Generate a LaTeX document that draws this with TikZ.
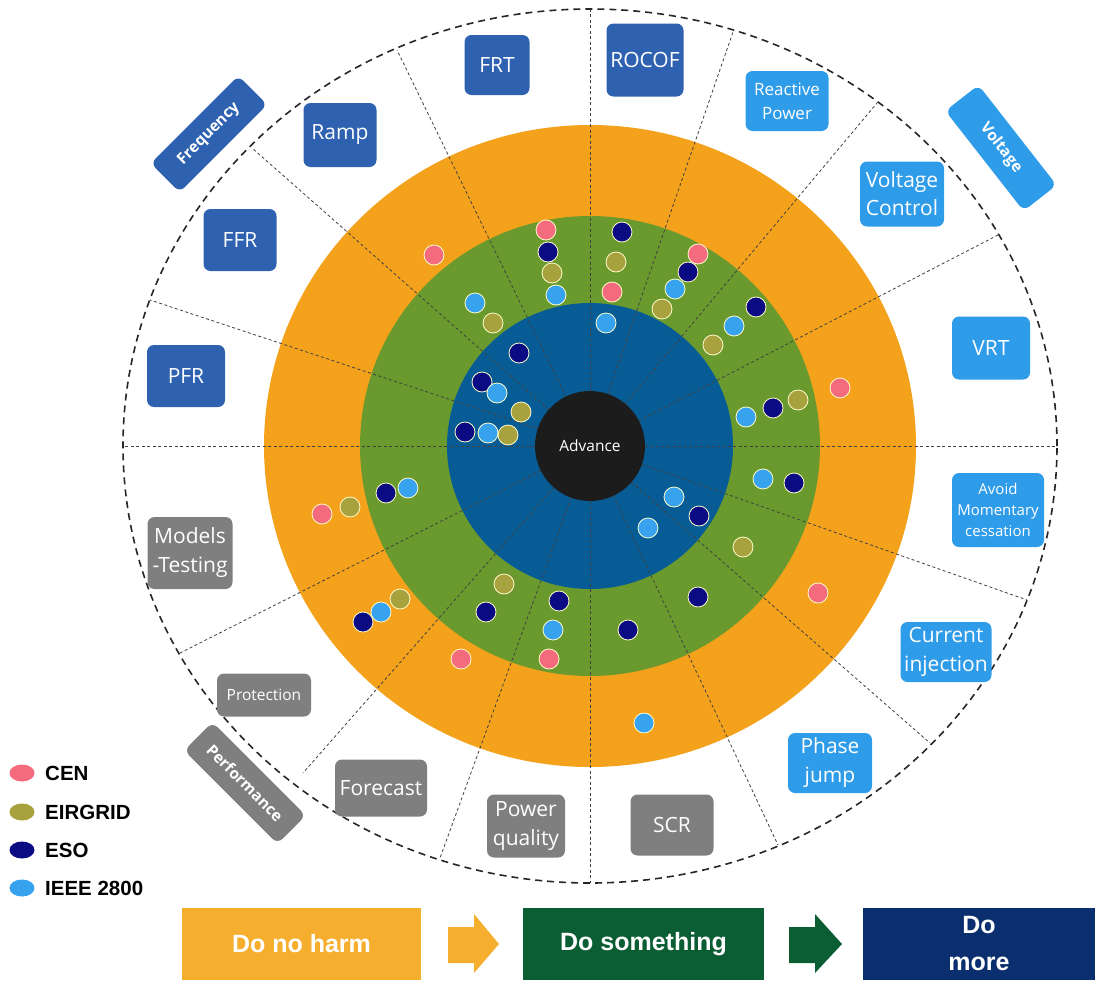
\documentclass[tikz,border=0pt]{standalone}
\usepackage{fontspec}
\usetikzlibrary{shapes.geometric}
\setmainfont{Open Sans}
\newfontfamily\arialfont{Liberation Sans}
\definecolor{ringorange}{HTML}{F4A11C}
\definecolor{ringgreen}{HTML}{6A9A2D}
\definecolor{ringblue}{HTML}{085C95}
\definecolor{corecol}{HTML}{1C1C1C}
\definecolor{cencol}{HTML}{F36B7D}
\definecolor{eircol}{HTML}{A7A23D}
\definecolor{esocol}{HTML}{0B0B84}
\definecolor{ieeecol}{HTML}{37A3EE}
\definecolor{freqcol}{HTML}{2E62B1}
\definecolor{voltcol}{HTML}{2F9CEA}
\definecolor{perfcol}{HTML}{7F7F7F}
\definecolor{harmcol}{HTML}{F6AE2E}
\definecolor{somecol}{HTML}{0B5D33}
\definecolor{morecol}{HTML}{0B2F6E}

\begin{document}
\begin{tikzpicture}[x=1pt,y=-1pt,
                    ray/.style={black!75,line width=.8pt,dash pattern=on 3pt off 2.5pt},
                    rim/.style={black!85,line width=1.6pt,dash pattern=on 7pt off 5pt},
                    dot/.style={circle,draw=white!80!yellow,line width=.8pt,minimum size=20pt,inner sep=0pt},
                    lbl/.style={rounded corners=7pt,text=white,align=center,inner sep=1pt,
                                font=\fontsize{21}{29}\selectfont},
                    freqbox/.style={lbl,fill=freqcol},
                    voltbox/.style={lbl,fill=voltcol},
                    perfbox/.style={lbl,fill=perfcol},
                    tag/.style={lbl,font=\bfseries\fontsize{15.5}{18}\selectfont},
                    legdot/.style={ellipse,minimum width=25pt,minimum height=17pt,inner sep=0pt},
                    legtxt/.style={anchor=west,inner sep=0pt,font=\arialfont\bfseries\fontsize{20.5}{24}\selectfont},
                    stage/.style={text=white,align=center,minimum height=72pt,inner sep=0pt,
                                  font=\arialfont\bfseries\fontsize{25}{37}\selectfont}]
 \useasboundingbox (0,0) rectangle (1095,980);
 \coordinate (c) at (590,446);
 % rings
 \draw[rim] (c) ellipse[x radius=467pt,y radius=437pt];
 \fill[ringorange] (c) ellipse[x radius=326pt,y radius=321pt];
 \fill[ringgreen] (c) circle[radius=230pt];
 \fill[ringblue] (c) circle[radius=143pt];
 \foreach \px/\py [count=\n] in {123/446,150/300,252/148,397/50,590/10,733/32,877/103,998/235,
                                 1057/446,1027/600,930/743,778/845,590/883,440/858,303/773,180/653}
 {
  \coordinate (r\n) at (\px,\py);
  \draw[ray] (c)--(r\n);
 }
 \node[circle,fill=corecol,minimum size=110pt,inner sep=0pt,text=white,
       font=\fontsize{15.5}{18}\selectfont] (core) at (c) {Advance};
 % dots
 \foreach \px/\py/\col [count=\n] in {434/255/cencol,546/230/cencol,548/252/esocol,552/273/eircol,
   556/295/ieeecol,475/303/ieeecol,493/323/eircol,519/353/esocol,482/382/esocol,497/393/ieeecol,
   521/412/eircol,465/432/esocol,488/433/ieeecol,508/435/eircol,622/232/esocol,616/262/eircol,
   612/292/cencol,606/323/ieeecol,698/254/cencol,688/272/esocol,675/289/ieeecol,662/309/eircol,
   756/307/esocol,734/326/ieeecol,713/345/eircol,840/388/cencol,798/400/eircol,773/408/esocol,
   746/417/ieeecol,386/493/esocol,408/488/ieeecol,322/514/cencol,350/507/eircol,400/599/eircol,
   381/612/ieeecol,363/622/esocol,461/659/cencol,504/584/eircol,486/612/esocol,559/601/esocol,
   553/630/ieeecol,549/659/cencol,763/479/ieeecol,794/483/esocol,674/497/ieeecol,699/516/esocol,
   648/528/ieeecol,743/547/eircol,698/597/esocol,818/593/cencol,628/630/esocol,644/723/ieeecol}
  \node[dot,fill=\col] (d\n) at (\px,\py) {};
 % frequency
 \node[tag,fill=freqcol,rotate=45,minimum width=124pt,minimum height=41pt] (freq) at (209,134) {Frequency};
 \node[freqbox,minimum width=65pt,minimum height=60pt] (frt) at (497,65) {FRT};
 \node[freqbox,minimum width=77pt,minimum height=73pt] (rocof) at (645,60) {ROCOF};
 \node[freqbox,minimum width=73pt,minimum height=64pt] (ramp) at (340,135) {Ramp};
 \node[freqbox,minimum width=73pt,minimum height=62pt] (ffr) at (240,240) {FFR};
 \node[freqbox,minimum width=78pt,minimum height=62pt] (pfr) at (186,376) {PFR};
 % voltage
 \node[tag,fill=voltcol,rotate=-52,minimum width=127pt,minimum height=42pt] (volt) at (1001,148) {Voltage};
 \node[voltbox,minimum width=83pt,minimum height=60pt,font=\fontsize{17}{24}\selectfont] (reac) at (787,101) {Reactive\\Power};
 \node[voltbox,minimum width=84pt,minimum height=65pt,font=\fontsize{21}{28}\selectfont] (vctl) at (902,194) {Voltage\\Control};
 \node[voltbox,minimum width=78pt,minimum height=63pt] (vrt) at (991,348) {VRT};
 \node[voltbox,minimum width=92pt,minimum height=74pt,font=\fontsize{15}{21}\selectfont] (avoid) at (998,510) {Avoid\\Momentary\\cessation};
 \node[voltbox,minimum width=91pt,minimum height=60pt] (cinj) at (946,652) {Current\\injection};
 \node[voltbox,minimum width=84pt,minimum height=60pt] (phase) at (830,763) {Phase\\jump};
 % performance
 \node[perfbox,minimum width=83pt,minimum height=61pt] (scr) at (672,825) {SCR};
 \node[perfbox,minimum width=78pt,minimum height=63pt] (pq) at (526,826) {Power\\quality};
 \node[perfbox,minimum width=92pt,minimum height=57pt] (fcst) at (381,788) {Forecast};
 \node[perfbox,minimum width=94pt,minimum height=43pt,font=\fontsize{15.5}{18}\selectfont] (prot) at (264,695) {Protection};
 \node[perfbox,minimum width=85pt,minimum height=72pt] (mod) at (190,553) {Models\\-Testing};
 \node[tag,fill=perfcol,rotate=-45,minimum width=132pt,minimum height=40pt] (perf) at (245,783) {Performance};
 % legend
 \foreach \col/\txt/\py [count=\n] in {cencol/CEN/773,eircol/EIRGRID/812,esocol/ESO/850,ieeecol/IEEE 2800/888}
 {
  \node[legdot,fill=\col] (k\n) at (22,\py) {};
  \node[legtxt] (t\n) at (45,\py) {\txt};
 }
 % stages
 \node[stage,fill=harmcol,minimum width=239pt] (harm) at (301.5,944) {Do no harm};
 \node[stage,fill=somecol,minimum width=241pt] (some) at (643.5,944) {Do something};
 \node[stage,fill=morecol,minimum width=232pt] (more) at (979,944) {Do\\more};
 \fill[harmcol] (448,927)--(474,927)--(474,914)--(499,944)--(474,973)--(474,963)--(448,963)--cycle;
 \fill[somecol] (789,927)--(815,927)--(815,914)--(842,944)--(815,973)--(815,963)--(789,963)--cycle;
\end{tikzpicture}
\end{document}
